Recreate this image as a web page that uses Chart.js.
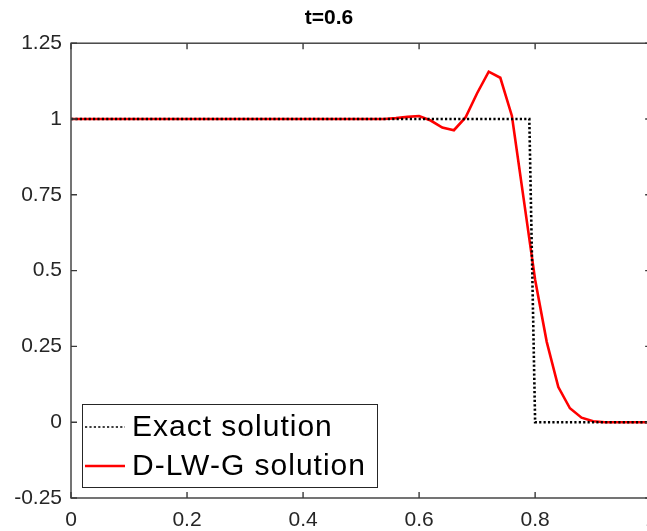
<!DOCTYPE html>
<html>
<head>
<meta charset="utf-8">
<script src="https://cdn.jsdelivr.net/npm/chart.js@4/dist/chart.umd.min.js"></script>
<style>
  html, body { margin: 0; padding: 0; background: #fff; overflow: hidden; }
  #wrap { width: 647px; height: 531px; overflow: hidden; }
</style>
</head>
<body>
<div id="wrap"><canvas id="myChart" width="667" height="531"></canvas></div>
<script>
// exact solution (step) - corner points
var exactX = [0, 0.79, 0.80, 1];
var exactY = [1, 1, 0, 0];

// D-LW-G solution on the 0.02 grid
var gridX = [0, 0.02, 0.04, 0.06, 0.08, 0.1, 0.12, 0.14, 0.16, 0.18,
             0.2, 0.22, 0.24, 0.26, 0.28, 0.3, 0.32, 0.34, 0.36, 0.38,
             0.4, 0.42, 0.44, 0.46, 0.48, 0.5, 0.52, 0.54, 0.56, 0.58,
             0.6, 0.62, 0.64, 0.66, 0.68, 0.7, 0.72, 0.74, 0.76, 0.78,
             0.8, 0.82, 0.84, 0.86, 0.88, 0.9, 0.92, 0.94, 0.96, 0.98, 1];
var dlwgY = [1, 1, 1, 1, 1, 1, 1, 1, 1, 1,
             1, 1, 1, 1, 1, 1, 1, 1, 1, 1,
             1, 1, 1, 1, 1, 1, 1, 1, 1.003, 1.007,
             1.01, 0.995, 0.972, 0.963, 1.005, 1.085, 1.156, 1.136, 1.01, 0.74,
             0.47, 0.265, 0.116, 0.046, 0.015, 0.003, 0, 0, 0, 0, 0];

var xTicks = [0, 0.2, 0.4, 0.6, 0.8, 1];
var xTickLabels = ['0', '0.2', '0.4', '0.6', '0.8', '1'];
var yTicks = [-0.25, 0, 0.25, 0.5, 0.75, 1, 1.25];
var yTickLabels = ['-0.25', '0', '0.25', '0.5', '0.75', '1', '1.25'];

var axisColor = '#262626';

function pts(xs, ys) {
    return xs.map(function (x, i) { return { x: x, y: ys[i] }; });
}

function labelFor(ticks, labels) {
    return function (v) {
        for (var i = 0; i < ticks.length; i++) {
            if (Math.abs(ticks[i] - v) < 1e-9) return labels[i];
        }
        return '';
    };
}

// axes box with inward tick marks, matlab style
var boxPlugin = {
    id: 'box',
    afterDraw: function (chart) {
        var ctx = chart.ctx, a = chart.chartArea;
        var xs = chart.scales.x, ys = chart.scales.y;
        ctx.save();
        ctx.strokeStyle = '#3a3a3a';
        ctx.lineWidth = 1.4;
        ctx.strokeRect(a.left, a.top, a.right - a.left, a.bottom - a.top);
        ctx.beginPath();
        xTicks.forEach(function (t) {
            var px = xs.getPixelForValue(t);
            ctx.moveTo(px, a.bottom); ctx.lineTo(px, a.bottom - 6);
            ctx.moveTo(px, a.top); ctx.lineTo(px, a.top + 6);
        });
        yTicks.forEach(function (t) {
            var py = ys.getPixelForValue(t);
            ctx.moveTo(a.left, py); ctx.lineTo(a.left + 6, py);
            ctx.moveTo(a.right, py); ctx.lineTo(a.right - 6, py);
        });
        ctx.stroke();
        ctx.restore();
    }
};

// legend box in the lower left corner
var legendPlugin = {
    id: 'boxLegend',
    afterDraw: function (chart) {
        var ctx = chart.ctx;
        var left = 82, top = 404, w = 295, h = 83;
        ctx.save();
        ctx.fillStyle = '#fff';
        ctx.fillRect(left, top, w, h);
        ctx.strokeStyle = axisColor;
        ctx.lineWidth = 1;
        ctx.strokeRect(left + 0.5, top + 0.5, w, h);
        ctx.font = '30px "Liberation Sans", Arial, sans-serif';
        ctx.letterSpacing = '1px';
        ctx.textBaseline = 'middle';
        ctx.fillStyle = '#000';
        var rows = [427, 466];
        chart.data.datasets.forEach(function (ds, i) {
            var y = rows[i];
            ctx.beginPath();
            ctx.strokeStyle = ds.borderColor;
            ctx.lineWidth = ds.legendWidth;
            ctx.setLineDash(ds.borderDash || []);
            ctx.moveTo(85, y);
            ctx.lineTo(125, y);
            ctx.stroke();
            ctx.setLineDash([]);
            ctx.fillText(ds.label, 132, y + 1);
        });
        ctx.restore();
    }
};

function createChart() {
    var ctx = document.getElementById('myChart').getContext('2d');
    var myChart = new Chart(ctx, {
        type: 'line',
        data: {
            datasets: [
                {
                    label: 'Exact solution',
                    data: pts(exactX, exactY),
                    borderColor: '#000000',
                    borderWidth: 2.6,
                    borderDash: [2.2, 2.2],
                    legendWidth: 1.6,
                    pointRadius: 0,
                    fill: false,
                    tension: 0
                },
                {
                    label: 'D-LW-G solution',
                    data: pts(gridX, dlwgY),
                    borderColor: '#ff0000',
                    borderWidth: 2.6,
                    legendWidth: 2.6,
                    pointRadius: 0,
                    fill: false,
                    tension: 0
                }
            ]
        },
        options: {
            responsive: false,
            animation: false,
            layout: { padding: { left: 0, right: 9, top: 0, bottom: 0 } },
            plugins: {
                legend: { display: false },
                tooltip: { enabled: false },
                title: {
                    display: true,
                    text: 't=0.6',
                    color: '#000',
                    font: { family: '"Liberation Sans", Arial, sans-serif', size: 21, weight: 'bold' },
                    padding: { top: 6, bottom: 12 }
                }
            },
            scales: {
                x: {
                    type: 'linear',
                    min: 0,
                    max: 1,
                    grid: { display: false, drawTicks: false, tickLength: 0 },
                    border: { display: false },
                    afterFit: function (s) { s.height = 33; },
                    ticks: {
                        stepSize: 0.2,
                        maxRotation: 0,
                        padding: 10,
                        color: axisColor,
                        font: { family: '"Liberation Sans", Arial, sans-serif', size: 21 },
                        callback: labelFor(xTicks, xTickLabels)
                    }
                },
                y: {
                    min: -0.25,
                    max: 1.25,
                    grid: { display: false, drawTicks: false, tickLength: 0 },
                    border: { display: false },
                    afterFit: function (s) { s.width = 71; },
                    ticks: {
                        stepSize: 0.25,
                        padding: 9,
                        color: axisColor,
                        font: { family: '"Liberation Sans", Arial, sans-serif', size: 21 },
                        callback: labelFor(yTicks, yTickLabels)
                    }
                }
            }
        },
        plugins: [boxPlugin, legendPlugin]
    });
    return myChart;
}

createChart();
</script>
</body>
</html>
